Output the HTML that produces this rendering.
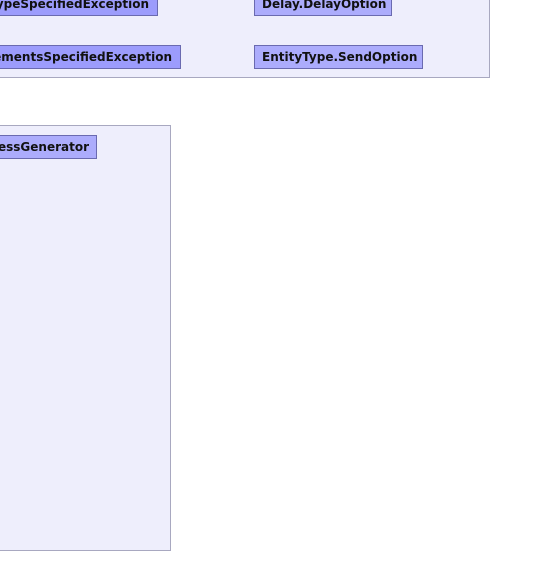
<!DOCTYPE html>
<html><head><style>
body{margin:0;width:549px;height:588px;background:#fff;position:relative;overflow:hidden;font-family:"DejaVu Sans","Liberation Sans",sans-serif;}
.p{position:absolute;background:#eeeefc;border:1px solid #a8a8c0;box-sizing:border-box;}
.b{position:absolute;box-sizing:border-box;border:1px solid #6a6ab0;font-weight:bold;font-size:12px;color:#111;line-height:23px;white-space:nowrap;display:flex;overflow:hidden;}
.r{justify-content:flex-end;}
.d{background:#9c9cfc;}
.l{background:#acacfc;}
</style></head><body>
<div class="p" style="left:-10px;top:-10px;width:500px;height:88px"></div>
<div class="p" style="left:-10px;top:125px;width:181px;height:426px"></div>
<div class="b d r" style="left:-10px;top:-8px;width:168px;height:24px;padding-right:8px">TypeSpecifiedException</div>
<div class="b d r" style="left:-10px;top:45px;width:191px;height:24px;padding-right:8px">ElementsSpecifiedException</div>
<div class="b l" style="left:254px;top:-8px;width:138px;height:24px;padding-left:7px">Delay.DelayOption</div>
<div class="b l" style="left:254px;top:45px;width:169px;height:24px;padding-left:7px">EntityType.SendOption</div>
<div class="b l r" style="left:-10px;top:135px;width:107px;height:24px;padding-right:7px">ProcessGenerator</div>
</body></html>
